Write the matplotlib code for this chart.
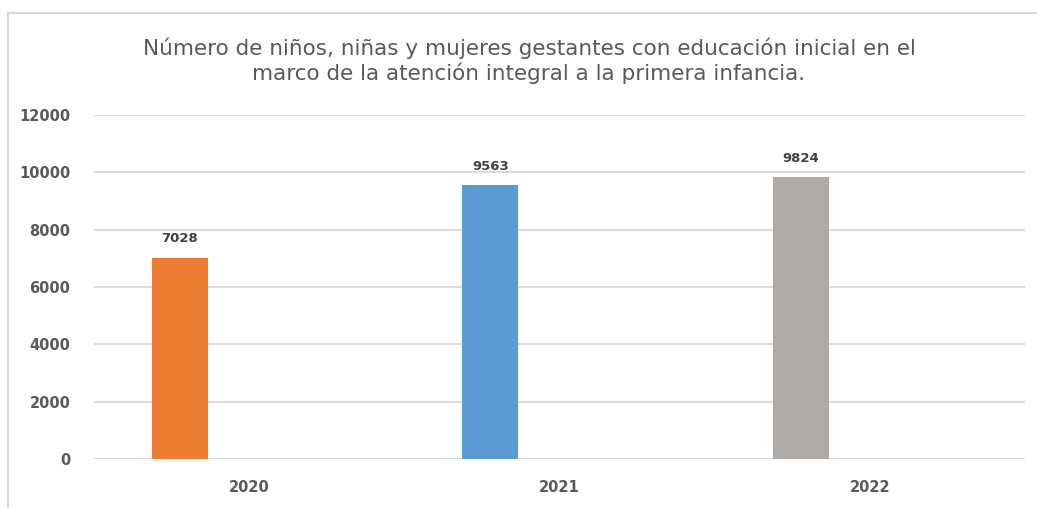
import matplotlib.pyplot as plt
from matplotlib.lines import Line2D

# Data
years = ["2020", "2021", "2022"]
values = [7028, 9563, 9824]
bar_colors = ["#ED7D31", "#5B9BD5", "#ADAAA8"]
y_ticks = [0, 2000, 4000, 6000, 8000, 10000, 12000]

title = ("Número de niños, niñas y mujeres gestantes con educación inicial en el\n"
         "marco de la atención integral a la primera infancia.")

W, H = 1037, 508
fig = plt.figure(figsize=(W / 100, H / 100), dpi=100)

# chart frame: only the top and left edges are visible in the crop
frame_y = 1 - 13 / H
frame_x = 8 / W
fig.lines.append(Line2D([frame_x, 1.05], [frame_y, frame_y], transform=fig.transFigure,
                        color="#d9d9d9", linewidth=1.5))
fig.lines.append(Line2D([frame_x, frame_x], [-0.05, frame_y], transform=fig.transFigure,
                        color="#d9d9d9", linewidth=1.5))

ax = fig.add_axes([94 / W, (H - 459) / H, (1025 - 94) / W, (459 - 115) / H])

x = list(range(len(years)))
offset = -0.223
width = 0.18
bar_x = [i + offset for i in x]
bars = ax.bar(bar_x, values, width=width, color=bar_colors, zorder=3)

for b, v in zip(bars, values):
    ax.text(b.get_x() + b.get_width() / 2, v + 420, str(v), ha="center", va="bottom",
            fontsize=9.5, fontweight="bold", color="#404040", zorder=4)

ax.set_xlim(-0.5, 2.5)
ax.set_ylim(0, 12000)
ax.set_yticks(y_ticks)
ax.set_yticklabels([str(t) for t in y_ticks])
ax.set_xticks(x)
ax.set_xticklabels(years)
ax.grid(axis="y", color="#d9d9d9", linewidth=1.3, zorder=0)
for s in ax.spines.values():
    s.set_visible(False)
ax.tick_params(length=0, labelsize=10.5, labelcolor="#595959")
ax.tick_params(axis="y", pad=17)
ax.tick_params(axis="x", pad=15)
for lbl in ax.get_xticklabels() + ax.get_yticklabels():
    lbl.set_fontweight("bold")

fig.text(529 / W, 1 - 61 / H, title, ha="center", va="center", fontsize=15.5,
         color="#595959", family="DejaVu Sans", linespacing=1.2)

fig.savefig("out.png", dpi=100)
